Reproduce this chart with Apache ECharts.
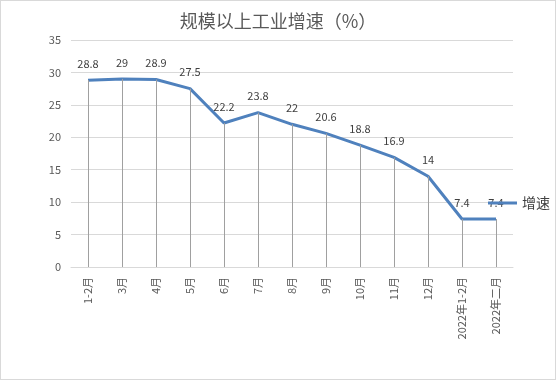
<!DOCTYPE html>
<html><head><meta charset="utf-8">
<script src="https://cdn.jsdelivr.net/npm/echarts@6/dist/echarts.min.js"></script>
<style>html,body{margin:0;padding:0;background:#fff}#c{width:556px;height:380px;box-sizing:border-box;border:1px solid #d9d9d9}</style>
</head><body><div id="c"></div>
<script>
const categories = ['1-2月','3月','4月','5月','6月','7月','8月','9月','10月','11月','12月','2022年1-2月','2022年二月'];
const values = [28.8,29,28.9,27.5,22.2,23.8,22,20.6,18.8,16.9,14,7.4,7.4];
const seriesName = '增速';
const chart = echarts.init(document.getElementById('c'));
const font = '"Microsoft YaHei","Noto Sans CJK SC",sans-serif';
chart.setOption({
  animation:false,
  title:{text:'规模以上工业增速（%）',left:'center',top:6,textStyle:{fontFamily:font,fontSize:18,fontWeight:'normal',color:'#595959'}},
  legend:{data:[{name:seriesName,icon:'rect',itemStyle:{color:'#4f81bd',opacity:1}}],left:487,top:195,padding:0,itemWidth:29,itemHeight:3,itemGap:3,textStyle:{fontFamily:font,fontSize:14,color:'#404040'}},
  grid:{left:70,right:42,top:39,bottom:112},
  xAxis:{type:'category',data:categories,boundaryGap:true,
    axisLine:{show:true,lineStyle:{color:'#d9d9d9'}},axisTick:{show:false},
    axisLabel:{rotate:90,interval:0,fontFamily:font,fontSize:11,color:'#595959',margin:10}},
  yAxis:{type:'value',min:0,max:35,interval:5,
    axisLine:{show:false},axisTick:{show:false},
    splitLine:{lineStyle:{color:'#d9d9d9'}},
    axisLabel:{fontFamily:font,fontSize:11,color:'#595959',margin:10}},
  series:[{name:seriesName,type:'line',data:values,symbol:'circle',symbolSize:0,showSymbol:true,
    lineStyle:{color:'#4f81bd',width:3},itemStyle:{color:'#4f81bd'},
    label:{show:true,position:'top',distance:11,fontFamily:font,fontSize:11,color:'#404040'},
    markLine:{silent:true,symbol:['none','none'],label:{show:false},
      lineStyle:{color:'#a0a0a0',width:1,type:'solid'},
      data:values.map((v,i)=>[{coord:[i,0]},{coord:[i,v]}])},
    z:3}]
});
</script></body></html>
